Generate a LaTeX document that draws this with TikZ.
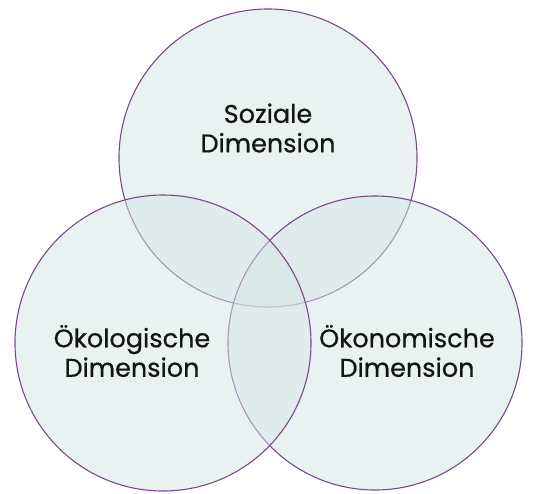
\documentclass[tikz,border=0pt]{standalone}
\usepackage{fontspec}
\setmainfont{Poppins}
\newfontfamily\dimfont{Poppins}[FakeBold=0.6]
\usepackage{tikz}

\definecolor{kreisfill}{HTML}{D4E6E4}
\definecolor{kreisrand}{HTML}{7A4A86}
\definecolor{schrift}{HTML}{141414}

\tikzset{
  kreis/.style={draw=kreisrand, line width=1.1pt, fill=kreisfill, fill opacity=0.5},
  dimtext/.style={text=schrift, align=center, font=\dimfont\fontsize{25.5}{29.5}\selectfont}
}

\begin{document}
\begin{tikzpicture}[x=1pt,y=-1pt]
    \useasboundingbox (0,0) rectangle (545,493);

    % drei Kreise
    \draw[kreis] (268,158) circle (149pt);
    \draw[kreis] (375,343) circle (147pt);
    \draw[kreis] (163,343) circle (148pt);

    % Beschriftung
    \node[dimtext] (sozial) at (268,128) {Soziale\\Dimension};
    \node[dimtext] (oeko) at (132,351) {Ökologische\\Dimension};
    \node[dimtext] (oekon) at (407,351) {Ökonomische\\Dimension};
\end{tikzpicture}
\end{document}
